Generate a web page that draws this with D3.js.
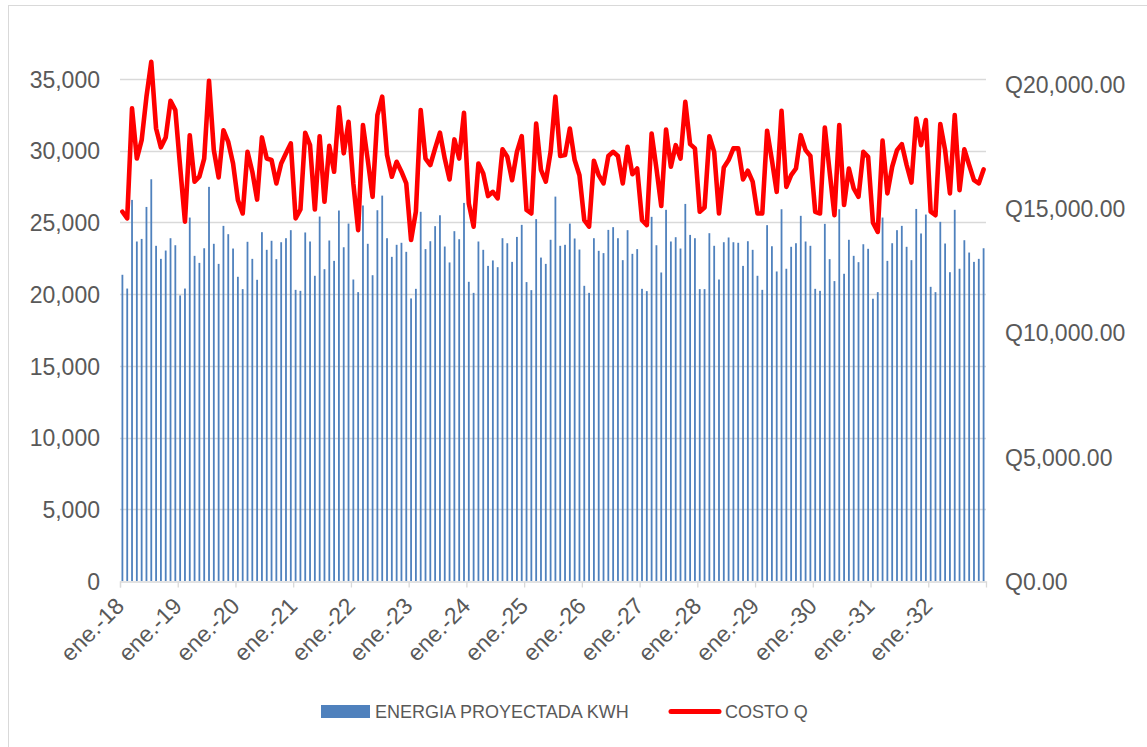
<!DOCTYPE html>
<html>
<head>
<meta charset="utf-8">
<script src="https://cdn.jsdelivr.net/npm/d3@7"></script>
<style>
  body { margin: 0; background: #fff; }
  svg { display: block; font-family: "Liberation Sans", Arial, sans-serif; }
</style>
</head>
<body>
<div class="chart"></div>
<script>
// energia mensual proyectada (kWh) y costo (Q), ene.-18 a dic.-32

var yearLabels = ['ene.-18', 'ene.-19', 'ene.-20', 'ene.-21', 'ene.-22', 'ene.-23', 'ene.-24', 'ene.-25',
  'ene.-26', 'ene.-27', 'ene.-28', 'ene.-29', 'ene.-30', 'ene.-31', 'ene.-32'];

var energia = [
  21350, 20390, 26570, 23670, 23850, 26080, 28010, 23370, 22460, 23040, 23900, 23410,
  19910, 20390, 25340, 22670, 22180, 23200, 27480, 23510, 22110, 24760, 24180, 23180,
  21210, 20350, 23650, 22460, 21000, 24320, 23090, 23720, 22440, 23620, 23900, 24460,
  20300, 20230, 24300, 23670, 21280, 25410, 21740, 23740, 22320, 25830, 23270, 24920,
  21020, 20140, 26180, 23510, 21320, 25850, 26870, 23900, 22600, 23440, 23580, 22950,
  19700, 20370, 25740, 23140, 23690, 24740, 25500, 23320, 22210, 24390, 23830, 26360,
  20860, 20090, 23670, 23090, 21970, 22350, 21880, 23900, 23550, 22250, 23990, 24830,
  20840, 20280, 25230, 22550, 22110, 23790, 26800, 23370, 23440, 24920, 23880, 23110,
  20580, 20090, 23900, 23020, 22860, 24480, 24670, 23900, 22370, 24460, 22810, 23140,
  20370, 20210, 25390, 23410, 21510, 25880, 23670, 23970, 23180, 26290, 24130, 23900,
  20350, 20350, 24250, 23370, 21020, 23620, 23950, 23620, 23580, 21970, 23690, 23090,
  21280, 20300, 24810, 23340, 21580, 25920, 21770, 23300, 23550, 25460, 23670, 23370,
  20370, 20230, 24900, 22440, 20910, 25920, 21420, 23790, 22670, 22230, 23480, 23160,
  19680, 20140, 25340, 22320, 23550, 24460, 24760, 23300, 22370, 25940, 24230, 25550,
  20510, 20140, 25040, 23530, 21530, 25880, 21770, 23760, 22900, 22250, 22460, 23200
];

var costo = [
  14860, 14590, 19020, 17000, 17740, 19490, 20890, 18210, 17450, 17850, 19320, 18950,
  16670, 14460, 17940, 16070, 16270, 17000, 20130, 17340, 16240, 18140, 17670, 16800,
  15330, 14790, 17270, 16470, 15350, 17850, 17000, 16940, 16000, 16800, 17210, 17610,
  14590, 14950, 18040, 17540, 14950, 17900, 15260, 17510, 16470, 19060, 17210, 18480,
  16000, 14120, 18350, 16940, 15460, 18750, 19490, 17140, 16270, 16870, 16470, 16000,
  13720, 14860, 18950, 17000, 16740, 17410, 18040, 17000, 16160, 17770, 17000, 18840,
  15190, 14260, 16800, 16400, 15490, 15660, 15400, 17370, 17070, 16130, 17270, 17900,
  14930, 14790, 18410, 16540, 16070, 17270, 19490, 17100, 17140, 18210, 16940, 16330,
  14520, 14260, 16910, 16330, 16000, 17100, 17270, 17100, 16000, 17470, 16370, 16600,
  14520, 14320, 18010, 16600, 15090, 18170, 16670, 17540, 17000, 19280, 17580, 17410,
  14860, 15030, 17900, 17270, 14790, 16640, 16940, 17410, 17410, 16160, 16510, 16070,
  14790, 14790, 18120, 16940, 15660, 18920, 15860, 16330, 16600, 17940, 17340, 17100,
  14860, 14790, 18250, 16470, 14720, 18350, 15130, 16600, 15800, 15460, 17270, 17070,
  14420, 14050, 17720, 15600, 16670, 17340, 17580, 16740, 16030, 18610, 17540, 18550,
  14860, 14720, 18390, 17340, 15600, 18750, 15730, 17370, 16740, 16130, 16000, 16560
];

var leftTicks = [0, 5000, 10000, 15000, 20000, 25000, 30000, 35000];
var rightTicks = [0, 5000, 10000, 15000, 20000];

var W = 1147, H = 747;
var plot = { left: 120, right: 986, top: 79, bottom: 581 };
var grey = '#595959';

var svg = d3.select('.chart').append('svg').attr('width', W).attr('height', H);

// marco del area del grafico (se sale de la imagen a la derecha y abajo)
svg.append('rect').attr('x', 8.5).attr('y', 5.5).attr('width', W + 20).attr('height', H + 20)
  .attr('fill', 'none').attr('stroke', '#d9d9d9').attr('stroke-width', 1);

var x = d3.scaleBand().domain(d3.range(energia.length)).range([plot.left, plot.right]).paddingInner(0);
var xm = d3.scaleLinear().domain([0, energia.length]).range([plot.left, plot.right]);
var yL = d3.scaleLinear().domain([0, 35000]).range([plot.bottom, plot.top]);
var yR = d3.scaleLinear().domain([0, 20000]).range([plot.bottom, 84]);

// lineas de cuadricula
svg.append('g').selectAll('line').data(leftTicks.slice(1)).enter().append('line')
  .attr('x1', plot.left).attr('x2', plot.right)
  .attr('y1', d => Math.round(yL(d)) + 0.5).attr('y2', d => Math.round(yL(d)) + 0.5)
  .attr('stroke', '#d9d9d9').attr('stroke-width', 1.3);

// eje izquierdo
var axL = svg.append('g').attr('transform', 'translate(' + (plot.left - 20) + ',0)')
  .call(d3.axisLeft(yL).tickValues(leftTicks).tickFormat(d3.format(',')).tickSize(0).tickPadding(0));
axL.select('.domain').remove();
axL.selectAll('text').attr('fill', grey).style('font-size', '23px').attr('dy', '0.36em');

// eje derecho
var axR = svg.append('g').attr('transform', 'translate(' + (plot.right + 19) + ',0)')
  .call(d3.axisRight(yR).tickValues(rightTicks).tickFormat(d => 'Q' + d3.format(',.2f')(d)).tickSize(0).tickPadding(0));
axR.select('.domain').remove();
axR.selectAll('text').attr('fill', grey).style('font-size', '23px').attr('dy', '0.36em');

// barras
var barW = 1.8;
svg.append('g').selectAll('rect').data(energia).enter().append('rect')
  .attr('x', (d, i) => x(i) + x.bandwidth() / 2 - barW / 2)
  .attr('y', d => yL(d))
  .attr('width', barW)
  .attr('height', d => plot.bottom - yL(d))
  .attr('fill', '#4f81bd');

// eje x
var yearIdx = yearLabels.map((d, i) => i * 12);
var axX = svg.append('g').attr('transform', 'translate(0,' + (plot.bottom + 0.5) + ')')
  .call(d3.axisBottom(xm).tickValues(yearIdx).tickFormat((d, i) => yearLabels[i]).tickSizeOuter(0).tickSize(6));
axX.select('.domain').attr('stroke', '#d9d9d9').attr('stroke-width', 1.3);
axX.selectAll('.tick line').attr('stroke', '#d9d9d9').attr('stroke-width', 1.3);
axX.selectAll('text')
  .attr('fill', grey).style('font-size', '23px')
  .attr('text-anchor', 'end')
  .attr('dy', null).attr('y', null)
  .attr('transform', 'translate(5,26) rotate(-45)');

// linea de costo
var line = d3.line().x((d, i) => x(i) + x.bandwidth() / 2).y(d => yR(d));
svg.append('path').datum(costo).attr('d', line)
  .attr('fill', 'none').attr('stroke', '#ff0000').attr('stroke-width', 4.6)
  .attr('stroke-linejoin', 'round').attr('stroke-linecap', 'round');

// leyenda
var lg = svg.append('g').style('font-size', '18px').attr('fill', grey);
lg.append('rect').attr('x', 321).attr('y', 705).attr('width', 49).attr('height', 13).attr('fill', '#4f81bd');
lg.append('text').attr('x', 375).attr('y', 718).text('ENERGIA PROYECTADA KWH');
lg.append('line').attr('x1', 671).attr('x2', 719).attr('y1', 711.5).attr('y2', 711.5)
  .attr('stroke', '#ff0000').attr('stroke-width', 5).attr('stroke-linecap', 'round');
lg.append('text').attr('x', 725).attr('y', 718).text('COSTO Q');
</script>
</body>
</html>
